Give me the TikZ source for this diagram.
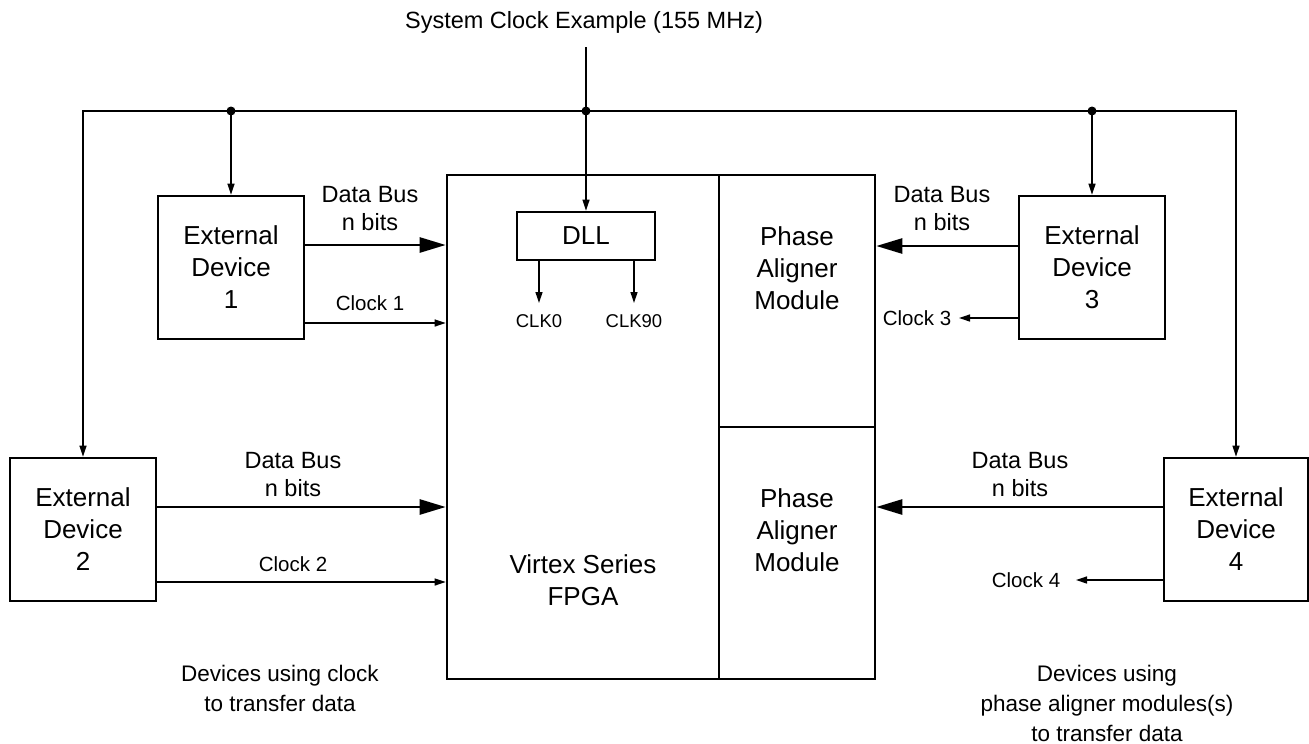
\documentclass[tikz,border=0pt]{standalone}
\usepackage{fontspec}
\setmainfont{Liberation Sans}
\usetikzlibrary{arrows.meta}
\begin{document}
\begin{tikzpicture}[x=1pt,y=-1pt,
  box/.style={draw, line width=2.6pt, inner sep=0pt, align=center, font=\fontsize{26}{32}\selectfont},
  bigtxt/.style={align=center, inner sep=0pt, font=\fontsize{26}{32}\selectfont},
  lbl/.style={align=center, inner sep=0pt, font=\fontsize{23.5}{28}\selectfont},
  clklbl/.style={inner sep=0pt, font=\fontsize{20.5}{24}\selectfont},
  small/.style={inner sep=0pt, font=\fontsize{18.5}{22}\selectfont},
  note/.style={align=center, inner sep=0pt, font=\fontsize{22.5}{30}\selectfont},
  conn/.style={line width=1.3pt},
  arr/.style={conn, -{Triangle[length=11pt,width=7pt]}},
  bus/.style={line width=2.6pt, -{Triangle[length=26pt,width=15pt]}}
]
\useasboundingbox (0,0) rectangle (1309,744);

% title and clock bus
\node[lbl] (title) at (584,22) {System Clock Example (155 MHz)};
\coordinate (ttop) at (586,47);
\coordinate (jl) at (231,111);
\coordinate (jc) at (586,111);
\coordinate (jr) at (1092,111);

% boxes
\node[box, minimum width=146pt, minimum height=143pt] (d1) at (231,267.5) {External\\Device\\1};
\node[box, minimum width=146pt, minimum height=143pt] (d3) at (1092,267.5) {External\\Device\\3};
\node[box, minimum width=146pt, minimum height=143pt] (d2) at (83,529.5) {External\\Device\\2};
\node[box, minimum width=144pt, minimum height=143pt] (d4) at (1236,529.5) {External\\Device\\4};

\node[box, minimum width=272pt, minimum height=504pt] (fpga) at (583,427) {};
\node[box, minimum width=156pt, minimum height=252pt] (pam1) at (797,301) {};
\node[box, minimum width=156pt, minimum height=252pt] (pam2) at (797,553) {};
\node[box, minimum width=138pt, minimum height=48pt] (dll) at (586,236) {DLL};

\node[bigtxt] (fpgatxt) at (583,580) {Virtex Series\\FPGA};
\node[bigtxt] (pam1txt) at (797,268) {Phase\\Aligner\\Module};
\node[bigtxt] (pam2txt) at (797,530) {Phase\\Aligner\\Module};

% clock distribution
\draw[conn] (ttop) -- (jc);
\draw[conn] (jl) -- (jr);
\draw[arr] (jl) -| (d2.north);
\draw[arr] (jr) -| (d4.north);
\draw[arr] (jl) -- (d1.north);
\draw[arr] (jr) -- (d3.north);
\draw[arr] (jc) -- (dll.north);
\fill (jl) circle (4.5pt);
\fill (jc) circle (4.5pt);
\fill (jr) circle (4.5pt);

% DLL outputs
\node[small] (clk0) at (539,321) {CLK0};
\node[small] (clk90) at (634,321) {CLK90};
\coordinate (k0) at (539,303);
\coordinate (k90) at (634,303);
\draw[arr] (dll.south -| k0) -- (k0);
\draw[arr] (dll.south -| k90) -- (k90);

% device 1
\node[lbl] (db1) at (370,209) {Data Bus\\n bits};
\node[clklbl] (ck1) at (370,303) {Clock 1};
\draw[bus] (d1.east |- 0,245) -- (fpga.west |- 0,245);
\draw[arr] (d1.east |- 0,323) -- (fpga.west |- 0,323);

% device 2
\node[lbl] (db2) at (293,474.5) {Data Bus\\n bits};
\node[clklbl] (ck2) at (293,564) {Clock 2};
\draw[bus] (d2.east |- 0,507) -- (fpga.west |- 0,507);
\draw[arr] (d2.east |- 0,582) -- (fpga.west |- 0,582);

% device 3
\node[lbl] (db3) at (942,209) {Data Bus\\n bits};
\node[clklbl] (ck3) at (917,318) {Clock 3};
\coordinate (c3end) at (959,318);
\draw[bus] (d3.west |- 0,246) -- (pam1.east |- 0,246);
\draw[arr] (d3.west |- c3end) -- (c3end);

% device 4
\node[lbl] (db4) at (1020,474.5) {Data Bus\\n bits};
\node[clklbl] (ck4) at (1026,580) {Clock 4};
\coordinate (c4end) at (1076,580);
\draw[bus] (d4.west |- 0,507) -- (pam2.east |- 0,507);
\draw[arr] (d4.west |- c4end) -- (c4end);

% notes
\node[note] (noteL) at (280,688) {Devices using clock\\to transfer data};
\node[note] (noteR) at (1107,703) {Devices using\\phase aligner modules(s)\\to transfer data};
\end{tikzpicture}
\end{document}
